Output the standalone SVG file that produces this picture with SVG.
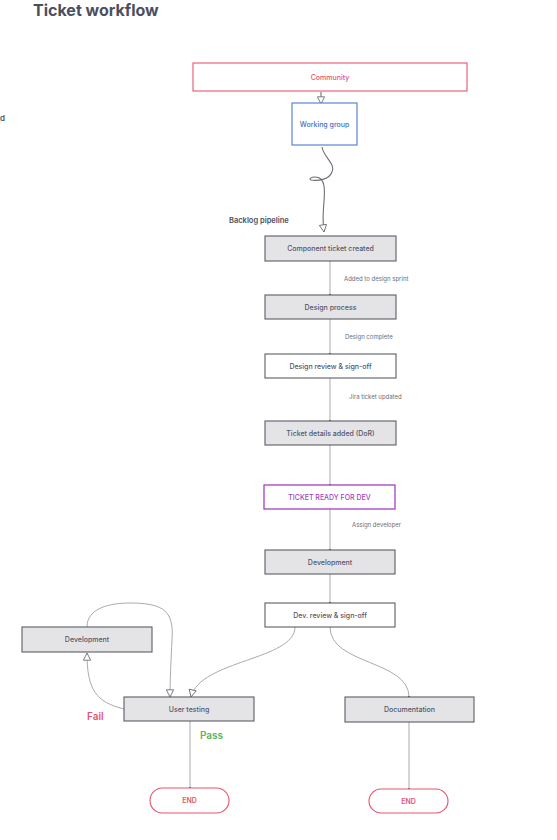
<svg xmlns="http://www.w3.org/2000/svg" width="557" height="840" viewBox="0 0 557 840">
<defs>
<style>
text{font-family:Inter,"Liberation Sans",sans-serif}
.node{stroke:#5a5d66;stroke-width:1.1}
.grey{fill:#e4e4e7}
.white{fill:#ffffff}
.lbl{font-size:7px;fill:#52566a;text-anchor:middle;font-weight:500}
.edge{fill:none;stroke:#a9abb2;stroke-width:1}
.dark{fill:none;stroke:#6b6e76;stroke-width:1.1}
.elbl{font-size:6px;fill:#6b6e76}
</style>
<marker id="dot" viewBox="0 0 4 4" refX="2" refY="2" markerWidth="3" markerHeight="3" orient="auto"><circle cx="2" cy="2" r="1.5" fill="#5a5d66"/></marker>
<marker id="open" viewBox="0 0 10 10" refX="9" refY="5" markerWidth="9" markerHeight="9" orient="auto" markerUnits="userSpaceOnUse"><path d="M1,1 L9,5 L1,9 Z" fill="#fff" stroke="#6b6e76" stroke-width="1"/></marker>
</defs>
<rect width="557" height="840" fill="#fff"/>
<text x="33" y="16" font-size="16" font-weight="700" fill="#4a4f5e">Ticket workflow</text>
<text x="0" y="121" font-size="8" font-weight="600" fill="#4a4f5e">d</text>
<text x="229" y="223" font-size="7.5" font-weight="600" fill="#4a4f5e">Backlog pipeline</text>

<g id="connectors">
<path class="dark" d="M321,92 L321,104" marker-end="url(#open)"/>
<path class="dark" d="M322,147 C324,158 336,164 332,172 C329,180 318,181 311,180 C306,178 322,172 324,186 C326,198 321,212 324,232" marker-end="url(#open)"/>
<path class="edge" d="M330,261 L330,295" marker-end="url(#dot)"/>
<path class="edge" d="M330,319 L330,354" marker-end="url(#dot)"/>
<path class="edge" d="M330,378 L330,421" marker-end="url(#dot)"/>
<path class="edge" d="M330,445 L330,485" marker-end="url(#dot)"/>
<path class="edge" d="M330,509 L330,550" marker-end="url(#dot)"/>
<path class="edge" d="M330,574 L330,603" marker-end="url(#dot)"/>
<path class="edge" d="M295,627 C295,660 200,660 191,697" marker-end="url(#open)"/>
<path class="edge" d="M330,627 C330,665 409,660 409,697" marker-end="url(#dot)"/>
<path class="edge" d="M87,627 C87,608 110,603 130,603 C165,603 174,612 172,640 C171,660 170,680 170,697" marker-end="url(#open)"/>
<path class="edge" d="M124,709 C96,702 87,690 87,653" marker-end="url(#open)"/>
<path class="edge" d="M190,721 L190,788" marker-end="url(#dot)"/>
<path class="edge" d="M409,722 L409,789" marker-end="url(#dot)"/>
<text class="elbl" x="344" y="281">Added to design sprint</text>
<text class="elbl" x="345" y="339">Design complete</text>
<text class="elbl" x="349" y="399">Jira ticket updated</text>
<text class="elbl" x="352" y="527">Assign developer</text>
<text x="87" y="720" font-size="10" font-weight="600" fill="#e8546e">Fail</text>
<text x="200" y="739" font-size="10" font-weight="600" fill="#5bb55b">Pass</text>
</g>

<g id="community"><rect x="193" y="63" width="274" height="28" fill="#fff" stroke="#e8546e" stroke-width="1.1"/><text class="lbl" x="330" y="79.5" style="fill:#e8546e">Community</text></g>
<g id="working-group"><rect x="292" y="103" width="65" height="42" fill="#fff" stroke="#4a7bd0" stroke-width="1.1"/><text class="lbl" x="324.5" y="126.5" style="fill:#3f6fc4">Working group</text></g>
<g id="component-ticket"><rect class="node grey" x="265" y="236" width="131" height="25"/><text class="lbl" x="330.5" y="251">Component ticket created</text></g>
<g id="design-process"><rect class="node grey" x="265" y="295" width="131" height="24"/><text class="lbl" x="330.5" y="309.5">Design process</text></g>
<g id="design-review"><rect class="node white" x="265" y="354" width="131" height="24"/><text class="lbl" x="330.5" y="368.5">Design review &amp; sign-off</text></g>
<g id="ticket-details"><rect class="node grey" x="265" y="421" width="131" height="24"/><text class="lbl" x="330.5" y="435.5">Ticket details added (DoR)</text></g>
<g id="ticket-ready"><rect x="264" y="485" width="131" height="24" fill="#fff" stroke="#a43fbf" stroke-width="1.3"/><text class="lbl" x="329.5" y="499.5" style="fill:#a43fbf">TICKET READY FOR DEV</text></g>
<g id="development"><rect class="node grey" x="265" y="550" width="130" height="24"/><text class="lbl" x="330" y="564.5">Development</text></g>
<g id="dev-review"><rect class="node white" x="265" y="603" width="130" height="24"/><text class="lbl" x="330" y="617.5">Dev. review &amp; sign-off</text></g>
<g id="development-left"><rect class="node grey" x="22" y="627" width="130" height="25"/><text class="lbl" x="87" y="642">Development</text></g>
<g id="user-testing"><rect class="node grey" x="124" y="697" width="130" height="24"/><text class="lbl" x="189" y="711.5">User testing</text></g>
<g id="documentation"><rect class="node grey" x="345" y="697" width="129" height="25"/><text class="lbl" x="409.5" y="712">Documentation</text></g>
<g id="end-left"><rect x="150" y="788" width="79" height="25" rx="12.5" fill="#fff" stroke="#e8546e" stroke-width="1.1"/><text class="lbl" x="189.5" y="803" style="fill:#e8546e;font-weight:600">END</text></g>
<g id="end-right"><rect x="369" y="789" width="79" height="24" rx="12" fill="#fff" stroke="#e8546e" stroke-width="1.1"/><text class="lbl" x="408.5" y="803.5" style="fill:#e8546e;font-weight:600">END</text></g>
</svg>
